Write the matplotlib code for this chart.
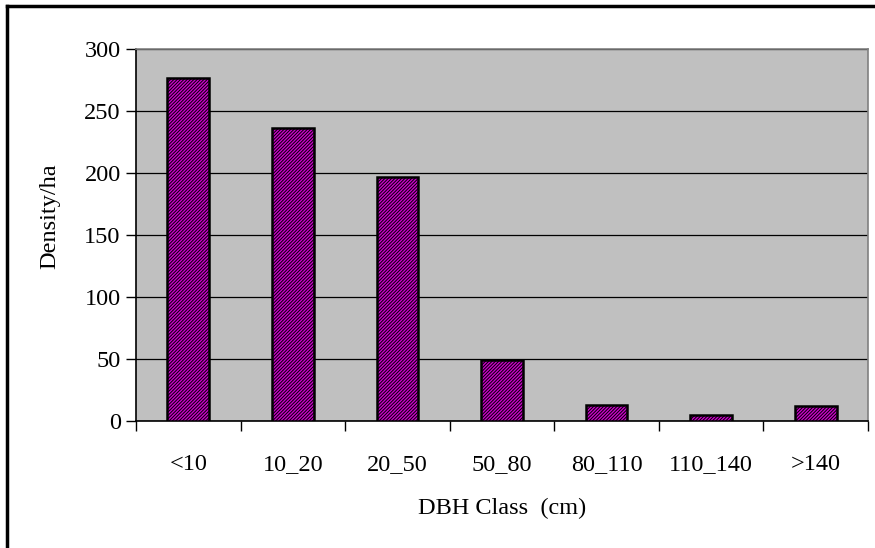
import numpy as np
import matplotlib.pyplot as plt
from matplotlib.lines import Line2D

plt.rcParams['font.family'] = ['Liberation Serif', 'DejaVu Serif']
plt.rcParams['hatch.color'] = 'black'
plt.rcParams['hatch.linewidth'] = 0.7

# DBH classes and stem density per hectare
classes = ['<10', '10_20', '20_50', '50_80', '80_110', '110_140', '>140']
density = [277, 236, 197, 49, 13, 5, 12]

W, H = 875, 548
fig = plt.figure(figsize=(W / 100, H / 100), dpi=100)
ax = fig.add_axes([136 / W, 1 - 421 / H, (868 - 136) / W, (421 - 49) / H])

x = np.arange(len(classes))
ax.set_facecolor('#c0c0c0')
ax.set_axisbelow(True)
ax.yaxis.grid(True, color='black', linewidth=0.9)
ax.bar(x, density, width=0.4, color='#cc00cc', edgecolor='black',
       linewidth=1.8, hatch='/' * 10, zorder=3)

ax.set_xlim(-0.5, len(classes) - 0.5)
ax.set_ylim(0, 300)
ax.set_yticks(np.arange(0, 301, 50))
ax.set_xticks(x)
ax.set_xticklabels(classes)
ax.set_xticks(np.arange(-0.5, len(classes)), minor=True)
ax.tick_params(axis='x', which='major', length=0, pad=24, labelsize=17.5)
ax.tick_params(axis='x', which='minor', length=7, width=1, direction='out')
ax.tick_params(axis='y', length=7, width=1, direction='out', labelsize=17.5, pad=4)

for side in ['top', 'right']:
    ax.spines[side].set_color('#808080')
    ax.spines[side].set_linewidth(1.2)
for side in ['left', 'bottom']:
    ax.spines[side].set_color('black')
    ax.spines[side].set_linewidth(1.2)

ax.set_ylabel('Density/ha', fontsize=17.5)
ax.set_xlabel('DBH Class  (cm)', fontsize=17.5, labelpad=16)
ax.yaxis.set_label_coords(-0.104, 0.55)

# outer chart frame (left and top edges visible)
fig.add_artist(Line2D([7 / W, 7 / W], [0, 1 - 6 / H], color='black', linewidth=2.5,
                      transform=fig.transFigure))
fig.add_artist(Line2D([7 / W, 1], [1 - 6 / H, 1 - 6 / H], color='black', linewidth=2.5,
                      transform=fig.transFigure))

fig.savefig('out.png', dpi=100, facecolor='white')
